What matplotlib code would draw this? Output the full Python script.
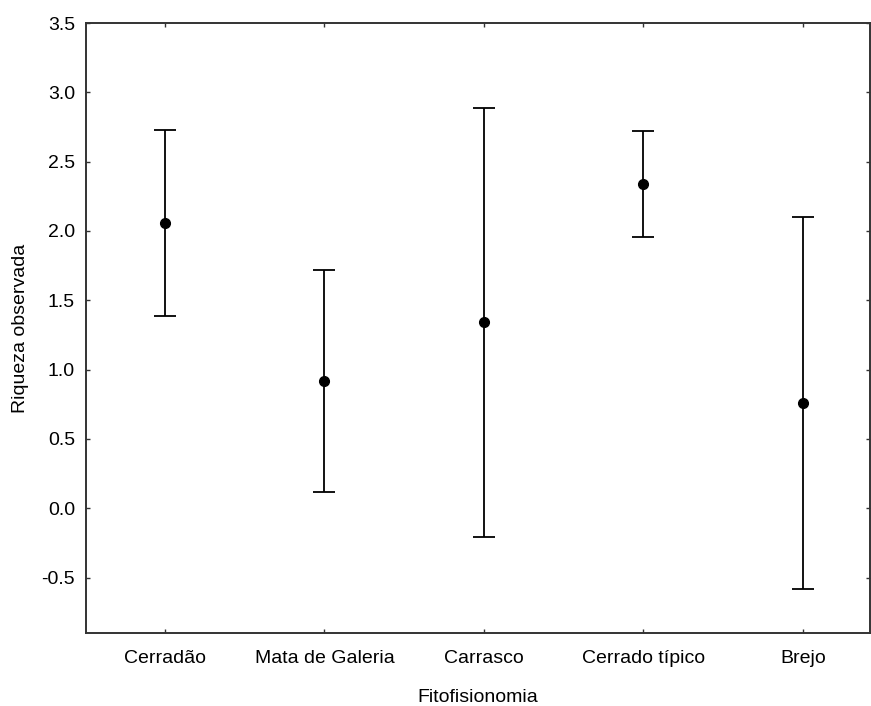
import matplotlib.pyplot as plt

plt.rcParams["font.family"] = ["Liberation Sans", "DejaVu Sans"]

categorias = ["Cerradão", "Mata de Galeria", "Carrasco", "Cerrado típico", "Brejo"]
media = [2.06, 0.92, 1.34, 2.34, 0.76]
erro = [0.67, 0.80, 1.55, 0.38, 1.34]

fig = plt.figure(figsize=(8.71, 7.06), dpi=100)
ax = fig.add_axes([86 / 871, 1 - 633 / 706, 784 / 871, 610 / 706])

xs = list(range(len(categorias)))
ax.errorbar(xs, media, yerr=erro, fmt="o", color="black", ms=7,
            capsize=8, capthick=1.3, elinewidth=1.3)

ax.set_xlim(-0.495, 4.42)
ax.set_ylim(-0.9, 3.5)
ax.set_yticks([-0.5, 0.0, 0.5, 1.0, 1.5, 2.0, 2.5, 3.0, 3.5])
ax.set_yticklabels(["-0.5", "0.0", "0.5", "1.0", "1.5", "2.0", "2.5", "3.0", "3.5"])
ax.set_xticks(xs)
ax.set_xticklabels(categorias)
ax.tick_params(direction="in", length=3, width=1, top=True, right=True,
               labelsize=14, colors="#333333", labelcolor="black")
ax.tick_params(axis="y", pad=8)
ax.tick_params(axis="x", pad=12)
for s in ax.spines.values():
    s.set_linewidth(1.4)
    s.set_color("#333333")

ax.set_xlabel("Fitofisionomia", fontsize=14, labelpad=16)
ax.set_ylabel("Riqueza observada", fontsize=14, labelpad=9)

fig.savefig("out.png", dpi=100, facecolor="white")
